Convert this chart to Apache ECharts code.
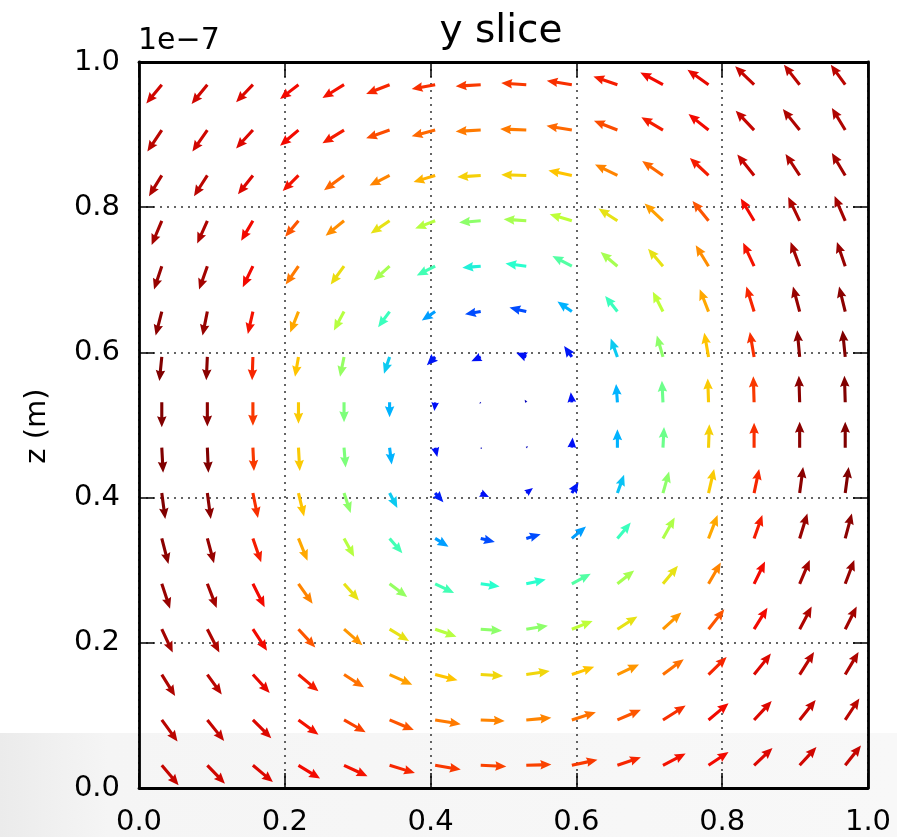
<!DOCTYPE html>
<html>
<head>
<meta charset="utf-8">
<title>y slice</title>
<script src="https://cdn.jsdelivr.net/npm/echarts@6/dist/echarts.min.js"></script>
<style>
    html, body {
        margin: 0;
        padding: 0;
        background: #ffffff;
    }

    #chart {
        width: 897px;
        height: 837px;
    }
</style>
</head>
<body>
<div id="chart"></div>
<script>
// arrow tails (grid centres), x across and z from the top row down
const xCenters = [0.03125, 0.09375, 0.15625, 0.21875, 0.28125, 0.34375, 0.40625, 0.46875,
    0.53125, 0.59375, 0.65625, 0.71875, 0.78125, 0.84375, 0.90625, 0.96875]
const zRows = [0.96875, 0.90625, 0.84375, 0.78125, 0.71875, 0.65625, 0.59375, 0.53125,
    0.46875, 0.40625, 0.34375, 0.28125, 0.21875, 0.15625, 0.09375, 0.03125]

// horizontal component, one row per zRows entry
const uRows = [
    [-0.58, -0.59, -0.63, -0.69, -0.81, -0.88, -0.88, -0.94, -0.94, -0.94, -0.90, -0.85, -0.79, -0.71, -0.59, -0.54],
    [-0.54, -0.56, -0.63, -0.69, -0.81, -0.88, -0.88, -0.94, -0.98, -0.95, -0.88, -0.81, -0.75, -0.69, -0.63, -0.50],
    [-0.48, -0.50, -0.56, -0.59, -0.75, -0.75, -0.81, -0.88, -0.94, -0.88, -0.84, -0.78, -0.70, -0.63, -0.53, -0.50],
    [-0.38, -0.38, -0.44, -0.50, -0.69, -0.71, -0.75, -0.81, -0.85, -0.83, -0.71, -0.69, -0.60, -0.50, -0.43, -0.40],
    [-0.29, -0.31, -0.38, -0.48, -0.50, -0.59, -0.69, -0.69, -0.78, -0.73, -0.63, -0.56, -0.48, -0.41, -0.34, -0.31],
    [-0.23, -0.18, -0.19, -0.31, -0.38, -0.43, -0.50, -0.59, -0.63, -0.54, -0.46, -0.38, -0.33, -0.29, -0.25, -0.23],
    [-0.09, -0.04, -0.03, -0.13, -0.15, -0.21, -0.31, -0.35, -0.38, -0.29, -0.25, -0.23, -0.16, -0.16, -0.09, -0.10],
    [0.00, 0.00, 0.00, 0.00, 0.00, 0.00, -0.03, -0.05, -0.06, -0.04, -0.05, -0.04, -0.03, -0.03, -0.03, -0.03],
    [0.05, 0.04, 0.04, 0.05, 0.06, 0.08, 0.08, 0.05, 0.06, 0.03, 0.00, 0.04, 0.03, 0.00, 0.00, 0.00],
    [0.13, 0.13, 0.19, 0.21, 0.25, 0.29, 0.31, 0.31, 0.25, 0.25, 0.25, 0.23, 0.21, 0.19, 0.13, 0.13],
    [0.25, 0.25, 0.31, 0.34, 0.38, 0.48, 0.50, 0.53, 0.54, 0.53, 0.50, 0.44, 0.34, 0.31, 0.29, 0.25],
    [0.31, 0.35, 0.44, 0.53, 0.56, 0.66, 0.71, 0.71, 0.73, 0.71, 0.63, 0.56, 0.46, 0.41, 0.38, 0.34],
    [0.41, 0.45, 0.53, 0.63, 0.69, 0.73, 0.80, 0.80, 0.81, 0.78, 0.75, 0.69, 0.59, 0.50, 0.45, 0.43],
    [0.50, 0.54, 0.63, 0.75, 0.75, 0.85, 0.84, 0.84, 0.88, 0.84, 0.81, 0.78, 0.68, 0.63, 0.54, 0.50],
    [0.59, 0.63, 0.69, 0.75, 0.81, 0.91, 0.96, 0.90, 0.94, 0.90, 0.88, 0.85, 0.75, 0.66, 0.60, 0.53],
    [0.63, 0.66, 0.75, 0.81, 0.88, 0.95, 0.96, 0.96, 0.94, 0.96, 0.88, 0.85, 0.75, 0.69, 0.63, 0.59]
]

// vertical component
const vRows = [
    [-0.71, -0.73, -0.66, -0.54, -0.50, -0.35, -0.16, -0.06, 0.06, 0.15, 0.31, 0.46, 0.56, 0.69, 0.75, 0.75],
    [-0.81, -0.81, -0.69, -0.59, -0.50, -0.31, -0.23, -0.05, 0.04, 0.16, 0.35, 0.48, 0.60, 0.73, 0.79, 0.83],
    [-0.78, -0.78, -0.71, -0.59, -0.56, -0.38, -0.25, -0.06, 0.03, 0.19, 0.41, 0.54, 0.66, 0.79, 0.81, 0.84],
    [-0.91, -0.85, -0.75, -0.60, -0.56, -0.48, -0.29, -0.06, 0.06, 0.25, 0.46, 0.65, 0.75, 0.84, 0.90, 0.93],
    [-0.88, -0.88, -0.79, -0.69, -0.69, -0.53, -0.35, -0.06, 0.10, 0.38, 0.53, 0.66, 0.79, 0.88, 0.91, 0.91],
    [-0.90, -0.90, -0.84, -0.79, -0.71, -0.59, -0.34, -0.10, 0.15, 0.38, 0.59, 0.75, 0.84, 0.94, 0.94, 0.94],
    [-0.91, -0.88, -0.88, -0.75, -0.75, -0.63, -0.31, -0.16, 0.16, 0.41, 0.69, 0.81, 0.91, 0.94, 1.00, 1.00],
    [-0.94, -0.91, -0.88, -0.81, -0.75, -0.56, -0.33, -0.05, 0.10, 0.38, 0.69, 0.81, 0.90, 0.98, 1.00, 1.00],
    [-0.94, -0.94, -0.88, -0.88, -0.75, -0.63, -0.35, -0.05, 0.06, 0.38, 0.69, 0.78, 0.88, 0.94, 0.98, 0.98],
    [-0.98, -0.98, -0.94, -0.88, -0.75, -0.56, -0.35, -0.15, 0.19, 0.41, 0.69, 0.81, 0.91, 0.91, 0.98, 0.98],
    [-0.96, -0.93, -0.90, -0.84, -0.69, -0.56, -0.31, -0.13, 0.16, 0.45, 0.60, 0.79, 0.88, 0.88, 0.94, 0.94],
    [-0.94, -0.91, -0.88, -0.75, -0.63, -0.50, -0.35, -0.10, 0.16, 0.38, 0.50, 0.68, 0.80, 0.84, 0.90, 0.90],
    [-0.88, -0.88, -0.81, -0.69, -0.60, -0.44, -0.28, -0.06, 0.13, 0.31, 0.48, 0.63, 0.75, 0.81, 0.85, 0.85],
    [-0.81, -0.75, -0.69, -0.63, -0.48, -0.38, -0.21, -0.05, 0.13, 0.29, 0.38, 0.58, 0.66, 0.79, 0.85, 0.85],
    [-0.81, -0.79, -0.69, -0.56, -0.46, -0.38, -0.16, -0.04, 0.08, 0.29, 0.38, 0.54, 0.63, 0.71, 0.75, 0.81],
    [-0.75, -0.69, -0.63, -0.50, -0.41, -0.29, -0.16, -0.04, 0.03, 0.21, 0.30, 0.44, 0.50, 0.65, 0.69, 0.75]
]

// colour value of each arrow (0 = low, 1 = high)
const cRows = [
    [0.93, 0.93, 0.92, 0.90, 0.89, 0.87, 0.86, 0.85, 0.85, 0.86, 0.88, 0.90, 0.91, 0.94, 0.95, 0.95],
    [0.95, 0.93, 0.92, 0.90, 0.88, 0.83, 0.80, 0.78, 0.78, 0.80, 0.83, 0.88, 0.90, 0.94, 0.96, 0.96],
    [0.96, 0.95, 0.92, 0.89, 0.80, 0.77, 0.72, 0.68, 0.68, 0.70, 0.77, 0.80, 0.88, 0.94, 0.96, 0.97],
    [0.97, 0.96, 0.90, 0.82, 0.76, 0.65, 0.57, 0.52, 0.55, 0.58, 0.65, 0.74, 0.82, 0.90, 0.96, 0.97],
    [0.98, 0.97, 0.90, 0.78, 0.66, 0.55, 0.43, 0.38, 0.40, 0.45, 0.55, 0.65, 0.76, 0.89, 0.97, 0.98],
    [0.99, 0.98, 0.89, 0.73, 0.57, 0.42, 0.28, 0.20, 0.20, 0.30, 0.42, 0.58, 0.73, 0.87, 0.98, 0.99],
    [1.00, 0.99, 0.87, 0.70, 0.53, 0.33, 0.13, 0.12, 0.12, 0.13, 0.33, 0.52, 0.70, 0.86, 0.99, 1.00],
    [1.00, 0.99, 0.85, 0.69, 0.50, 0.30, 0.12, 0.05, 0.05, 0.12, 0.30, 0.48, 0.69, 0.85, 0.99, 1.00],
    [1.00, 1.00, 0.85, 0.69, 0.50, 0.30, 0.12, 0.05, 0.05, 0.12, 0.30, 0.48, 0.68, 0.86, 0.99, 1.00],
    [1.00, 0.99, 0.86, 0.70, 0.52, 0.33, 0.14, 0.12, 0.12, 0.13, 0.32, 0.52, 0.69, 0.87, 0.99, 1.00],
    [0.99, 0.98, 0.88, 0.73, 0.57, 0.43, 0.28, 0.20, 0.20, 0.28, 0.42, 0.56, 0.73, 0.88, 0.98, 0.99],
    [0.98, 0.97, 0.90, 0.77, 0.65, 0.53, 0.43, 0.40, 0.40, 0.45, 0.55, 0.65, 0.77, 0.90, 0.97, 0.98],
    [0.97, 0.96, 0.90, 0.82, 0.75, 0.65, 0.57, 0.52, 0.52, 0.58, 0.65, 0.75, 0.82, 0.90, 0.96, 0.97],
    [0.96, 0.95, 0.91, 0.88, 0.79, 0.74, 0.70, 0.67, 0.67, 0.70, 0.75, 0.79, 0.87, 0.92, 0.95, 0.96],
    [0.95, 0.94, 0.92, 0.89, 0.84, 0.82, 0.78, 0.77, 0.77, 0.79, 0.82, 0.86, 0.90, 0.92, 0.94, 0.95],
    [0.94, 0.93, 0.92, 0.90, 0.89, 0.87, 0.85, 0.84, 0.84, 0.85, 0.87, 0.89, 0.90, 0.92, 0.93, 0.94]
]

const axisTicks = [0, 0.2, 0.4, 0.6, 0.8, 1.0]

// jet colour map
const jetColors = ['#000080', '#0000f4', '#004cff', '#00b3ff', '#29ffce', '#7dff7a',
    '#ceff29', '#ffc400', '#ff6800', '#f30900', '#800000']

const ARROW_SCALE = 0.0366   // axis units per unit of vector
const SHAFT_W = 3.1
const HEAD_W = 9.5
const HEAD_LEN = 11
const HEAD_AXIS = 10
const FONT = 'DejaVu Sans'

const arrowData = []
zRows.forEach((z, j) => {
    xCenters.forEach((x, i) => {
        arrowData.push([x, z, uRows[j][i], vRows[j][i], cRows[j][i]])
    })
})

function renderArrow(params, api) {
    const x = api.value(0)
    const z = api.value(1)
    const p0 = api.coord([x, z])
    const p1 = api.coord([x + api.value(2) * ARROW_SCALE, z + api.value(3) * ARROW_SCALE])
    const dx = p1[0] - p0[0]
    const dy = p1[1] - p0[1]
    const len = Math.hypot(dx, dy)
    if (len < 0.5) return

    const ux = dx / len
    const uy = dy / len
    const nx = -uy
    const ny = ux
    // short arrows shrink as a whole, like matplotlib quiver
    const k = Math.min(1, len / HEAD_LEN)
    const sw = SHAFT_W / 2 * k
    const hw = HEAD_W / 2 * k
    const hl = HEAD_LEN * k
    const ha = HEAD_AXIS * k

    const neck = [p1[0] - ux * ha, p1[1] - uy * ha]
    const back = [p1[0] - ux * hl, p1[1] - uy * hl]
    const points = [
        [p0[0] + nx * sw, p0[1] + ny * sw],
        [neck[0] + nx * sw, neck[1] + ny * sw],
        [back[0] + nx * hw, back[1] + ny * hw],
        p1,
        [back[0] - nx * hw, back[1] - ny * hw],
        [neck[0] - nx * sw, neck[1] - ny * sw],
        [p0[0] - nx * sw, p0[1] - ny * sw]
    ]

    return {
        type: 'polygon',
        shape: { points },
        style: { fill: api.visual('color') }
    }
}

function makeAxis(position, showLabel) {
    return {
        type: 'value',
        position,
        min: 0,
        max: 1,
        interval: 0.2,
        axisLine: { show: true, onZero: false, lineStyle: { color: '#000', width: 2.8 } },
        axisTick: { show: true, inside: true, length: 15, lineStyle: { color: '#000', width: 1.5 } },
        axisLabel: {
            show: showLabel,
            showMinLabel: true,
            showMaxLabel: true,
            formatter: v => axisTicks.includes(+v.toFixed(1)) ? v.toFixed(1) : '',
            fontFamily: FONT,
            fontSize: 29,
            color: '#000',
            margin: position === 'bottom' ? 20 : 19
        },
        splitLine: {
            show: showLabel,
            lineStyle: { color: '#333', type: [2, 5], width: 1.5 }
        }
    }
}

const chart = echarts.init(document.getElementById('chart'))

chart.setOption({
    animation: false,
    backgroundColor: '#ffffff',
    grid: { left: 139, top: 62, width: 729, height: 729 },
    xAxis: [makeAxis('bottom', true), makeAxis('top', false)],
    yAxis: [makeAxis('left', true), makeAxis('right', false)],
    visualMap: {
        show: false,
        type: 'continuous',
        seriesIndex: 0,
        dimension: 4,
        min: 0,
        max: 1,
        inRange: { color: jetColors }
    },
    graphic: [
        {
            type: 'rect',
            z: -10,
            silent: true,
            shape: { x: 0, y: 733, width: 897, height: 104 },
            style: {
                fill: {
                    type: 'linear', x: 0, y: 0, x2: 1, y2: 0,
                    colorStops: [
                        { offset: 0, color: '#ebebeb' },
                        { offset: 0.12, color: '#f5f5f5' },
                        { offset: 1, color: '#f8f8f8' }
                    ]
                }
            }
        },
        {
            type: 'text',
            x: 501,
            y: 32,
            style: {
                text: 'y slice',
                fontFamily: FONT,
                fontSize: 39,
                fill: '#000',
                align: 'center',
                verticalAlign: 'middle'
            }
        },
        {
            type: 'text',
            x: 138,
            y: 41,
            style: {
                text: '1e\u22127',
                fontFamily: FONT,
                fontSize: 30,
                fill: '#000',
                align: 'left',
                verticalAlign: 'middle'
            }
        },
        {
            type: 'text',
            x: 37,
            y: 426,
            rotation: Math.PI / 2,
            style: {
                text: 'z (m)',
                fontFamily: FONT,
                fontSize: 29,
                fill: '#000',
                align: 'center',
                verticalAlign: 'middle'
            }
        }
    ],
    series: [
        {
            type: 'custom',
            renderItem: renderArrow,
            encode: { x: 0, y: 1 },
            data: arrowData,
            z: 5,
            clip: false
        }
    ]
})
</script>
</body>
</html>
